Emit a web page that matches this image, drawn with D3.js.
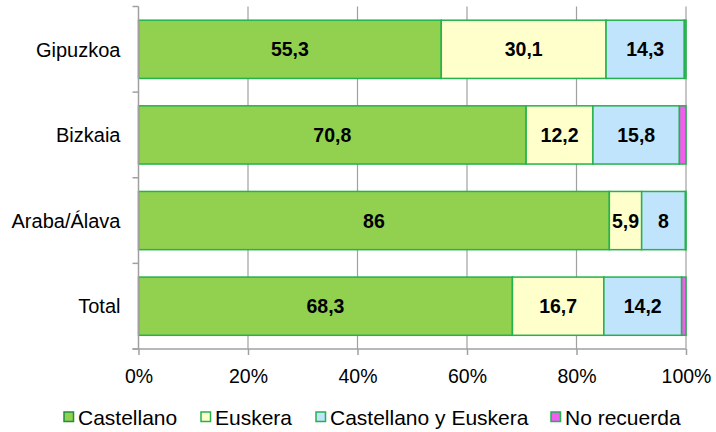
<!DOCTYPE html>
<html lang="es">
<head>
<meta charset="UTF-8">
<script src="https://d3js.org/d3.v7.min.js"></script>
<style>
  body { margin: 0; background: #fff; }
  svg text { font-family: "Liberation Sans", Arial, sans-serif; fill: #000; }
</style>
</head>
<body>
<svg id="chart" width="716" height="432"></svg>
<script>
  const categories = ['Gipuzkoa', 'Bizkaia', 'Araba/Álava', 'Total'];
  const seriesNames = ['Castellano', 'Euskera', 'Castellano y Euskera', 'No recuerda'];
  const castellano = [55.3, 70.8, 86, 68.3];
  const euskera = [30.1, 12.2, 5.9, 16.7];
  const ambos = [14.3, 15.8, 8, 14.2];
  const noRecuerda = [0.3, 1.2, 0.1, 0.8];
  const tickValues = [0, 20, 40, 60, 80, 100];
  const colors = ['#92d050', '#ffffcc', '#bfe4fb', '#f25ef0'];
  const showLabel = [true, true, true, false];

  const svg = d3.select('#chart');
  const margin = { top: 6.5, right: 30, bottom: 83, left: 138.5 };
  const width = 716 - margin.left - margin.right,
      height = 432 - margin.top - margin.bottom;

  const g = svg.append('g').attr('transform', `translate(${margin.left},${margin.top})`);

  const x = d3.scaleLinear().domain([0, 100]).range([0, width]);
  const y = d3.scaleBand().domain(categories).range([0, height]).paddingInner(0.32).paddingOuter(0.16);

  // gridlines
  g.append('g').selectAll('line').data(tickValues.slice(1)).enter()
    .append('line')
    .attr('x1', d => x(d)).attr('x2', d => x(d))
    .attr('y1', 0).attr('y2', height)
    .attr('stroke', '#a0a0a0').attr('stroke-width', 1.2);

  // stacked data
  const rows = categories.map((c, i) => ({
    cat: c, 'Castellano': castellano[i], 'Euskera': euskera[i],
    'Castellano y Euskera': ambos[i], 'No recuerda': noRecuerda[i]
  }));
  const stack = d3.stack().keys(seriesNames)(rows);

  const layers = g.selectAll('.layer').data(stack).enter()
    .append('g').attr('class', 'layer')
    .attr('fill', (d, i) => colors[i]);

  layers.selectAll('rect').data(d => d).enter()
    .append('rect')
    .attr('x', d => x(d[0]))
    .attr('y', d => y(d.data.cat))
    .attr('width', d => x(d[1]) - x(d[0]))
    .attr('height', y.bandwidth())
    .attr('stroke', '#23b24c')
    .attr('stroke-width', 1.5);

  layers.each(function (layer, li) {
    if (!showLabel[li]) return;
    d3.select(this).selectAll('text').data(layer).enter()
      .append('text')
      .attr('x', d => x((d[0] + d[1]) / 2))
      .attr('y', d => y(d.data.cat) + y.bandwidth() / 2)
      .attr('dy', '0.36em')
      .attr('text-anchor', 'middle')
      .style('font-size', '19.5px')
      .style('font-weight', 'bold')
      .text(d => String(+(d[1] - d[0]).toFixed(1)).replace('.', ','));
  });

  // y axis
  g.append('line').attr('x1', 0).attr('x2', 0).attr('y1', 0).attr('y2', height)
    .attr('stroke', '#a0a0a0').attr('stroke-width', 1.5);
  const bounds = [0].concat(categories.map(c => y(c) + y.bandwidth() + y.step() * y.paddingInner() / 2));
  bounds[bounds.length - 1] = height;
  g.append('g').selectAll('line').data(bounds).enter()
    .append('line')
    .attr('x1', -6).attr('x2', 0)
    .attr('y1', d => d).attr('y2', d => d)
    .attr('stroke', '#a0a0a0').attr('stroke-width', 1.5);
  g.append('g').selectAll('text').data(categories).enter()
    .append('text')
    .attr('x', -18)
    .attr('y', d => y(d) + y.bandwidth() / 2)
    .attr('dy', '0.36em')
    .attr('text-anchor', 'end')
    .style('font-size', '20px')
    .text(d => d);

  // x axis
  const xAxis = g.append('g').attr('transform', `translate(0,${height})`)
    .call(d3.axisBottom(x).tickValues(tickValues).tickSize(6).tickPadding(14).tickFormat(d => d + '%'));
  xAxis.select('.domain').attr('d', `M-6,0H${width}`).attr('stroke', '#a0a0a0').attr('stroke-width', 1.5);
  xAxis.selectAll('.tick line').attr('stroke', '#a0a0a0').attr('stroke-width', 1.5);
  xAxis.selectAll('.tick text')
    .style('font-family', '"Liberation Sans", Arial, sans-serif')
    .style('font-size', '19.5px').attr('fill', '#000');

  // legend
  const legendX = [64, 201, 316, 551];
  const legend = svg.append('g').attr('transform', 'translate(0,417)');
  const items = legend.selectAll('g').data(seriesNames).enter()
    .append('g').attr('transform', (d, i) => `translate(${legendX[i]},0)`);
  items.append('rect')
    .attr('x', 0).attr('y', -5).attr('width', 9.5).attr('height', 9.5)
    .attr('fill', (d, i) => colors[i])
    .attr('stroke', (d, i) => i === 0 ? '#1e8f3c' : '#23b24c').attr('stroke-width', 1.5);
  items.append('text')
    .attr('x', 14).attr('dy', '0.36em')
    .style('font-size', '21px')
    .text(d => d);
</script>
</body>
</html>
